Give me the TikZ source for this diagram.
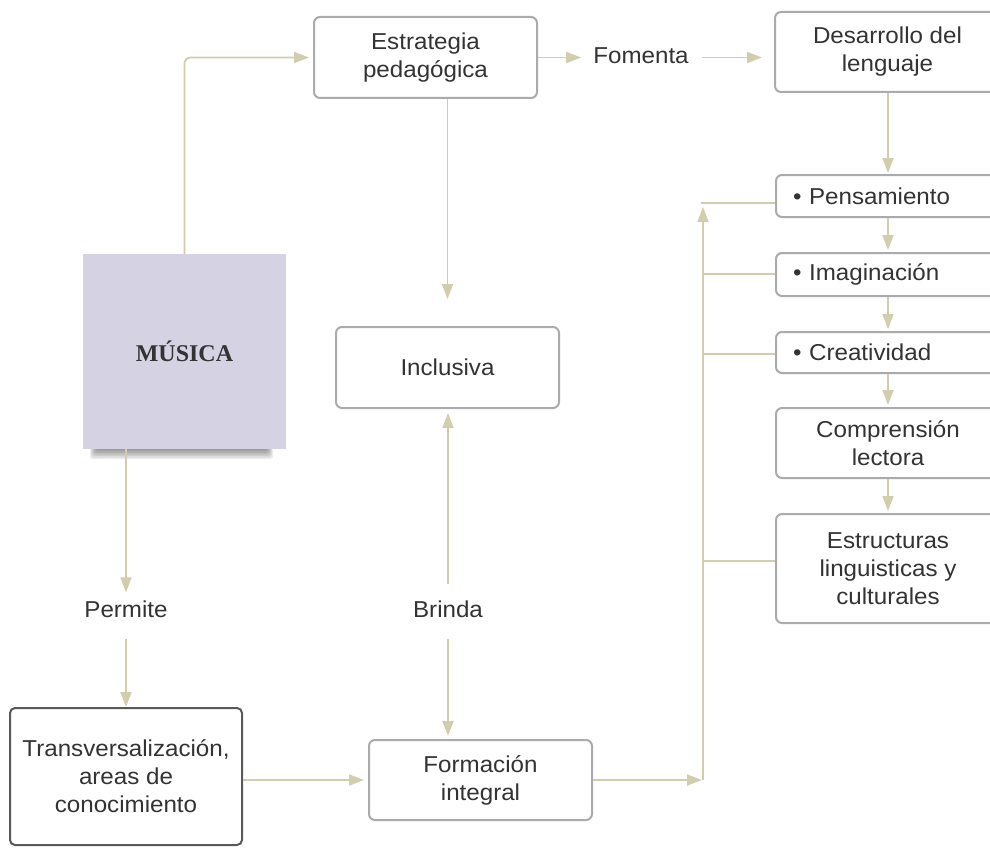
\documentclass[tikz,border=0pt]{standalone}
\usepackage{fontspec}
\setmainfont{Liberation Sans}[FakeStretch=1.05]
\newfontfamily\serifmus{Liberation Serif}
\usetikzlibrary{arrows.meta}
\definecolor{conncol}{HTML}{D3CDB0}
\definecolor{boxline}{HTML}{A9ABAE}
\definecolor{txt}{HTML}{333333}
\definecolor{darkline}{HTML}{58595B}
\definecolor{lav}{HTML}{D4D2E3}
\begin{document}
\begin{tikzpicture}[x=1pt,y=-1pt,
  box/.style={draw=boxline, line width=2pt, rounded corners=6pt, fill=white,
    inner sep=0pt, align=center, text=txt, font=\fontsize{23}{28}\selectfont},
  bulletbox/.style={box, text width=190pt, align=left},
  lbl/.style={inner sep=0pt, text=txt, font=\fontsize{23}{28}\selectfont},
  arr/.style={draw=conncol, line width=1.8pt, -{Triangle[length=15pt,width=11pt]}},
  plain/.style={draw=conncol, line width=1.8pt}]
\useasboundingbox (0,0) rectangle (990,848);
\clip (0,0) rectangle (990,848);
\fill[white] (0,0) rectangle (990,848);

% shadow of MUSICA
\foreach \i in {1,...,7}{
  \fill[black,opacity=0.07,rounded corners=3pt] (97-\i,440) rectangle (266+\i,448+\i*1.6);
}
\node[fill=lav, minimum width=203pt, minimum height=195pt, inner sep=0pt,
  text=txt, font=\serifmus\bfseries\fontsize{24}{28}\selectfont] (musica) at (184.5,351.5) {MÚSICA};

\node[box, minimum width=223pt, minimum height=81pt] (estr) at (425.5,57.5) {Estrategia\\pedagógica};
\node[box, minimum width=225pt, minimum height=80pt] (desa) at (887.5,52) {Desarrollo del\\lenguaje};
\node[box, minimum width=223pt, minimum height=81pt] (inclu) at (447.5,367.5) {Inclusiva};
\node[box, minimum width=223pt, minimum height=80pt] (form) at (480.5,780) {Formación\\integral};
\node[box, draw=darkline, rounded corners=5pt, minimum width=232pt, minimum height=137pt] (transv) at (126,776.5) {Transversalización,\\areas de\\conocimiento};

\node[bulletbox, minimum width=224pt, minimum height=42pt] (pens) at (888,196) {• Pensamiento};
\node[bulletbox, minimum width=224pt, minimum height=43pt] (imag) at (888,274.5) {• Imaginación};
\node[bulletbox, minimum width=224pt, minimum height=41pt] (crea) at (888,352.5) {• Creatividad};
\node[box, minimum width=224pt, minimum height=70pt] (compr) at (888,443) {Comprensión\\lectora};
\node[box, minimum width=224pt, minimum height=109pt] (estru) at (888,568.5) {Estructuras\\linguisticas y\\culturales};

\node[lbl] (fomenta) at (641,56) {Fomenta};
\node[lbl] (permite) at (126,609) {Permite};
\node[lbl] (brinda) at (448,609) {Brinda};

% connectors
\draw[arr, rounded corners=6pt, shorten >=4pt] (musica.north) |- (estr.west);
\draw[arr, shorten >=27pt] (inclu.north |- estr.south) -- (inclu.north);
\draw[arr, shorten >=12pt] (estr.east) -- (fomenta.west |- estr.east);
\draw[arr, shorten <=13pt, shorten >=12pt] (fomenta.east |- estr.east) -- (desa.west |- estr.east);
\draw[arr, shorten >=1pt] (desa.south -| pens.north) -- (pens.north);
\draw[arr, shorten >=2pt] (pens.south) -- (imag.north);
\draw[arr, shorten >=2pt] (imag.south) -- (crea.north);
\draw[arr, shorten >=2pt] (crea.south) -- (compr.north);
\draw[arr, shorten >=2pt] (compr.south) -- (estru.north);

\draw[arr, shorten >=8pt] (permite.north |- musica.south) -- (permite.north);
\draw[arr, shorten <=21pt] (permite.south) -- (transv.north -| permite.south);
\draw[arr, shorten <=16pt, shorten >=4pt] (brinda.north) -- (inclu.south -| brinda.north);
\draw[arr, shorten <=21pt, shorten >=3pt] (brinda.south) -- (form.north -| brinda.south);
\draw[arr, shorten >=4pt] (transv.east |- form.west) -- (form.west);

\coordinate (c0) at (703,780);
\coordinate (c1) at (703,203);
\coordinate (c2) at (703,274);
\coordinate (c3) at (703,354);
\coordinate (c4) at (703,561);
\draw[arr, shorten >=1pt] (form.east) -- (c0);
\draw[arr, shorten >=4pt] (c0) -- (c1);
\draw[plain] ([xshift=-2pt]c1) -- (pens.west |- c1);
\draw[plain] (c2) -- (imag.west |- c2);
\draw[plain] (c3) -- (crea.west |- c3);
\draw[plain] (c4) -- (estru.west |- c4);
\end{tikzpicture}
\end{document}
